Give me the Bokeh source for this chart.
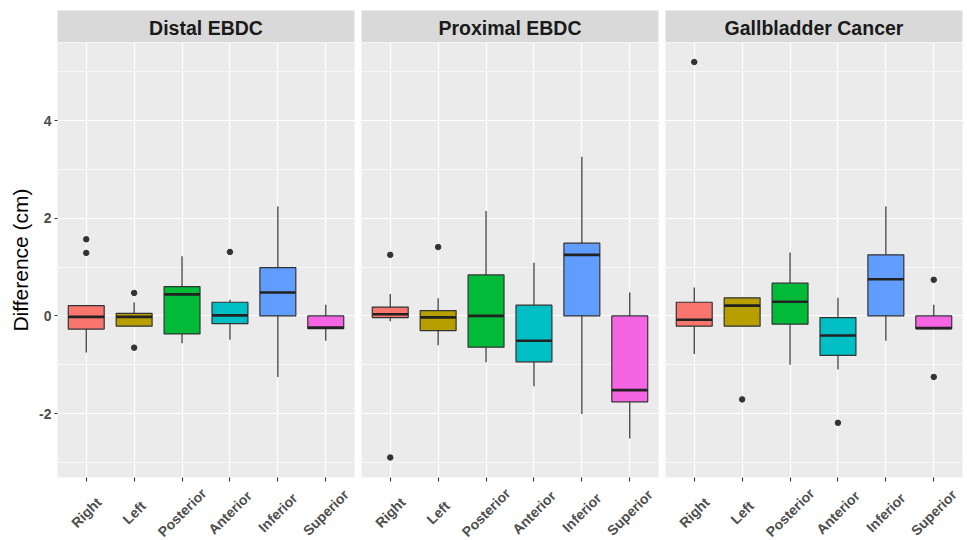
from bokeh.plotting import figure
from bokeh.models import ColumnDataSource, Range1d, FixedTicker
from bokeh.layouts import gridplot
from bokeh.transform import dodge
from bokeh.core.properties import value
from bokeh.embed import file_html
from bokeh.resources import INLINE

# ---------------- data ----------------
categories = ["Right", "Left", "Posterior", "Anterior", "Inferior", "Superior"]
facets = ["Distal EBDC", "Proximal EBDC", "Gallbladder Cancer"]
fill_colors = ["#F8766D", "#B79F00", "#00BA38", "#00BFC4", "#619CFF", "#F564E3"]

distal_lo = [-0.75, -0.21, -0.56, -0.49, -1.25, -0.51]
distal_q1 = [-0.27, -0.21, -0.37, -0.16, 0.00, -0.26]
distal_med = [-0.02, -0.02, 0.44, 0.01, 0.48, -0.24]
distal_q3 = [0.21, 0.05, 0.60, 0.28, 0.99, 0.00]
distal_hi = [0.21, 0.28, 1.22, 0.33, 2.24, 0.23]
distal_out_cat = ["Right", "Right", "Left", "Left", "Anterior"]
distal_out_val = [1.57, 1.29, 0.47, -0.65, 1.31]

proximal_lo = [-0.11, -0.60, -0.95, -1.44, -2.01, -2.51]
proximal_q1 = [-0.035, -0.30, -0.64, -0.94, 0.00, -1.76]
proximal_med = [0.035, -0.03, 0.00, -0.51, 1.25, -1.52]
proximal_q3 = [0.18, 0.11, 0.84, 0.22, 1.49, 0.00]
proximal_hi = [0.45, 0.36, 2.15, 1.09, 3.26, 0.48]
proximal_out_cat = ["Right", "Right", "Left"]
proximal_out_val = [1.25, -2.90, 1.41]

gallbladder_lo = [-0.78, -0.21, -1.00, -1.10, -0.51, -0.26]
gallbladder_q1 = [-0.21, -0.21, -0.17, -0.81, 0.00, -0.26]
gallbladder_med = [-0.08, 0.21, 0.29, -0.40, 0.75, -0.25]
gallbladder_q3 = [0.28, 0.37, 0.67, -0.035, 1.25, 0.00]
gallbladder_hi = [0.58, 0.37, 1.30, 0.37, 2.24, 0.23]
gallbladder_out_cat = ["Right", "Left", "Anterior", "Superior", "Superior"]
gallbladder_out_val = [5.20, -1.71, -2.19, 0.74, -1.25]

y_ticks = [-2, 0, 2, 4]
y_tick_labels = ["-2", "0", "2", "4"]
y_minor_ticks = [-3, -1, 1, 3, 5]
y_label = "Difference (cm)"

# ---------------- style ----------------
FONT = "Liberation Sans"
PANEL_BG = "#EBEBEB"
STRIP_BG = "#D9D9D9"
EDGE = "#333333"
TICK_TXT = "#4D4D4D"
X_START, X_END = 0.4, 6.6
Y_START, Y_END = -3.31, 5.60
FRAME_W = 297
STRIP_TOP, STRIP_FRAME = 10, 32
PANEL_FRAME, PANEL_BOTTOM = 435, 6
LABEL_H = 540 - (STRIP_TOP + STRIP_FRAME + PANEL_FRAME + PANEL_BOTTOM)

positions = list(range(1, len(categories) + 1))

facet_data = [
    (distal_lo, distal_q1, distal_med, distal_q3, distal_hi, distal_out_cat, distal_out_val),
    (proximal_lo, proximal_q1, proximal_med, proximal_q3, proximal_hi, proximal_out_cat, proximal_out_val),
    (gallbladder_lo, gallbladder_q1, gallbladder_med, gallbladder_q3, gallbladder_hi,
     gallbladder_out_cat, gallbladder_out_val),
]

borders = [(57, 4), (3, 4), (3, 5)]

strips, panels, labels = [], [], []
for i, (name, data) in enumerate(zip(facets, facet_data)):
    lo, q1, med, q3, hi, out_cat, out_val = data
    bl, br = borders[i]
    w = bl + FRAME_W + br

    # ---- facet strip ----
    s = figure(width=w, height=STRIP_TOP + STRIP_FRAME, x_range=Range1d(X_START, X_END),
               y_range=Range1d(0, 1), x_axis_location=None, y_axis_location=None,
               toolbar_location=None, output_backend="svg",
               min_border_left=bl, min_border_right=br, min_border_top=STRIP_TOP, min_border_bottom=0,
               background_fill_color=STRIP_BG, border_fill_color="white", outline_line_color=None)
    s.grid.visible = False
    s.text(x=[(X_START + X_END) / 2], y=[0.45], text=[name], text_align="center",
           text_baseline="middle", text_font=value(FONT), text_font_style="bold",
           text_font_size="19.5px", text_color="#1A1A1A")
    strips.append(s)

    # ---- panel ----
    p = figure(width=w, height=PANEL_FRAME + PANEL_BOTTOM, x_range=Range1d(X_START, X_END),
               y_range=Range1d(Y_START, Y_END),
               y_axis_location="left" if i == 0 else None,
               toolbar_location=None, output_backend="svg",
               min_border_left=bl, min_border_right=br, min_border_top=0,
               min_border_bottom=PANEL_BOTTOM,
               background_fill_color=PANEL_BG, border_fill_color="white", outline_line_color=None)

    p.xgrid.ticker = FixedTicker(ticks=positions)
    p.xgrid.grid_line_color = "white"
    p.xgrid.grid_line_width = 1.2
    p.ygrid.ticker = FixedTicker(ticks=y_ticks, minor_ticks=y_minor_ticks)
    p.ygrid.grid_line_color = "white"
    p.ygrid.grid_line_width = 1.2
    p.ygrid.minor_grid_line_color = "white"
    p.ygrid.minor_grid_line_width = 0.6

    xa = p.xaxis[0]
    xa.ticker = FixedTicker(ticks=positions)
    xa.axis_line_color = None
    xa.major_tick_line_color = EDGE
    xa.major_tick_line_width = 1.1
    xa.major_tick_out = 4
    xa.major_tick_in = 0
    xa.minor_tick_line_color = None
    xa.major_label_standoff = 0
    xa.major_label_text_font_size = "1px"
    xa.major_label_text_color = None

    if i == 0:
        ya = p.yaxis[0]
        ya.ticker = FixedTicker(ticks=y_ticks)
        ya.major_label_overrides = {t: lab for t, lab in zip(y_ticks, y_tick_labels)}
        ya.axis_line_color = None
        ya.major_tick_line_color = EDGE
        ya.major_tick_line_width = 1.1
        ya.major_tick_out = 3
        ya.major_tick_in = 0
        ya.minor_tick_line_color = None
        ya.major_label_standoff = 3
        ya.major_label_text_font = FONT
        ya.major_label_text_font_style = "bold"
        ya.major_label_text_font_size = "14px"
        ya.major_label_text_color = TICK_TXT
        ya.axis_label = y_label
        ya.axis_label_text_font = FONT
        ya.axis_label_text_font_style = "normal"
        ya.axis_label_text_font_size = "21px"
        ya.axis_label_text_color = "black"
        ya.axis_label_standoff = 4

    src = ColumnDataSource(dict(x=positions, lo=lo, q1=q1, med=med, q3=q3, hi=hi, color=fill_colors))
    p.segment(x0="x", y0="q3", x1="x", y1="hi", source=src, line_color=EDGE, line_width=1.2)
    p.segment(x0="x", y0="q1", x1="x", y1="lo", source=src, line_color=EDGE, line_width=1.2)
    p.vbar(x="x", width=0.75, bottom="q1", top="q3", source=src, fill_color="color",
           line_color=EDGE, line_width=1.2)
    p.segment(x0=dodge("x", -0.375), x1=dodge("x", 0.375), y0="med", y1="med", source=src,
              line_color="#222222", line_width=2.6)

    out_src = ColumnDataSource(dict(x=[categories.index(c) + 1 for c in out_cat], y=out_val))
    p.scatter(x="x", y="y", source=out_src, size=5.5, fill_color=EDGE, line_color=EDGE)
    panels.append(p)

    # ---- rotated category labels ----
    lab = figure(width=w, height=LABEL_H, x_range=p.x_range, y_range=Range1d(0, 1),
                 x_axis_location=None, y_axis_location=None, toolbar_location=None,
                 output_backend="svg", min_border_left=bl, min_border_right=br,
                 min_border_top=0, min_border_bottom=0,
                 background_fill_color="white", border_fill_color="white", outline_line_color=None)
    lab.grid.visible = False
    lab.text(x=positions, y=[0.49] * len(positions), text=categories, angle=0.7854,
             text_align="center", text_baseline="middle", text_font=value(FONT),
             text_font_style="bold", text_font_size="14px", text_color=TICK_TXT)
    labels.append(lab)

grid = gridplot([strips, panels, labels], toolbar_location=None)

open("out.html", "w").write(file_html(grid, INLINE))
